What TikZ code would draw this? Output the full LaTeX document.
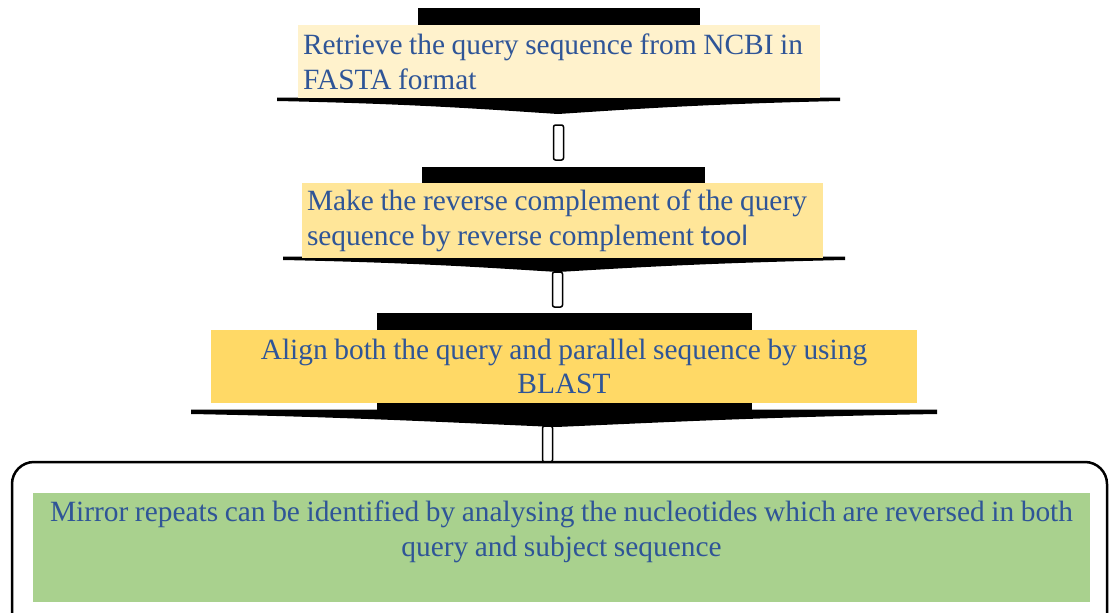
\documentclass[tikz,border=0pt]{standalone}
\usepackage{fontspec}
\setmainfont{Liberation Serif}
\newfontfamily\toolfont{Carlito}
\definecolor{txtblue}{HTML}{2F5597}
\definecolor{cA}{HTML}{FFF2CC}
\definecolor{cB}{HTML}{FFE699}
\definecolor{cC}{HTML}{FFD966}
\definecolor{cD}{HTML}{A9D18E}
\newcommand\tightsp{\spaceskip=6.6pt plus 0pt minus 0pt\relax}
\tikzset{
  barbox/.style={fill=black, draw=none, inner sep=0pt, outer sep=0pt},
  textbox/.style={draw=none, inner xsep=5pt, inner ysep=0pt, outer sep=0pt,
     text=txtblue, font=\fontsize{29.4}{34.8}\selectfont},
  connbox/.style={draw=black, fill=white, line width=1.5pt, rounded corners=2pt,
     inner sep=0pt, outer sep=0pt, minimum width=10pt},
  headfill/.style={fill=black}
}
\begin{document}
\begin{tikzpicture}[x=1pt,y=-1pt]
\useasboundingbox (0,0) rectangle (1109,613);
\clip (0,0) rectangle (1109,613);

% bars (stems of the arrows)
\node[barbox, minimum width=282pt, minimum height=91pt] (bar1) at (559,53.5) {};
\node[barbox, minimum width=283pt, minimum height=91pt] (bar2) at (563.5,212.5) {};
\node[barbox, minimum width=375pt, minimum height=98pt] (bar3) at (564.5,362) {};

% arrow heads
\coordinate (tip1) at (558,114);
\coordinate (tip2) at (558,272);
\coordinate (tip3) at (556,427);
\fill[headfill] (277,97.5) -- (840,97.5) -- (840,101)
  .. controls (700,104) and (620,110) .. (tip1)
  .. controls (496,110) and (420,104) .. (277,101) -- cycle;
\fill[headfill] (283,256.5) -- (845,256.5) -- (845,260)
  .. controls (705,263) and (625,268) .. (tip2)
  .. controls (491,268) and (425,263) .. (283,260) -- cycle;
\fill[headfill] (191,409.5) -- (937,409.5) -- (937,414)
  .. controls (760,417) and (650,423) .. (tip3)
  .. controls (460,423) and (350,417) .. (191,414) -- cycle;

% text boxes
\node[textbox, fill=cA, minimum width=522pt, minimum height=73pt,
      text width=512pt, align=left] (t1) at (559,61.5)
  {\tightsp Retrieve the query sequence from NCBI in\\FASTA format};
\node[textbox, fill=cB, minimum width=521pt, minimum height=75pt,
      text width=511pt, align=left] (t2) at (562.5,220.5)
  {\tightsp Make the reverse complement of the query\\sequence by reverse complement {\toolfont tool}};
\node[textbox, fill=cC, minimum width=706pt, minimum height=73pt,
      text width=696pt, align=center] (t3) at (564,366.5)
  {\tightsp Align both the query and parallel sequence by using\\BLAST};

% connectors
\node[connbox, minimum height=35pt] (c1) at (558.5,142.5) {};
\node[connbox, minimum height=35pt] (c2) at (557.5,289.5) {};
\node[connbox, minimum height=36pt] (c3) at (547.5,444) {};

% final box
\draw[line width=2.5pt, rounded corners=22pt] (12,462) rectangle (1107,660);
\node[draw=none, fill=cD, minimum width=1057pt, minimum height=109pt,
      inner sep=0pt, outer sep=0pt] (g4) at (561.5,547.5) {};
\node[textbox, text width=1050pt, align=center] (t4) at (561.5,532)
  {\tightsp Mirror repeats can be identified by analysing the nucleotides which are reversed in both\\query and subject sequence};
\end{tikzpicture}
\end{document}
